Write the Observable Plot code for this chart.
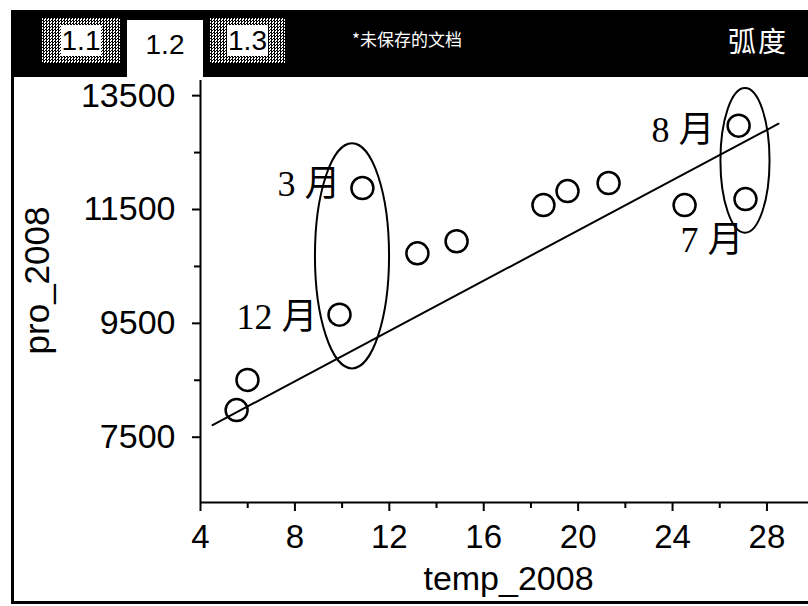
<!DOCTYPE html>
<html><head><meta charset="utf-8">
<script src="https://cdn.jsdelivr.net/npm/d3@7"></script>
<script src="https://cdn.jsdelivr.net/npm/@observablehq/plot@0.6"></script>
<style>
html,body{margin:0;padding:0;background:#fff;}
#page{position:relative;width:808px;height:606px;overflow:hidden;background:#fff;}
#chart{position:absolute;left:0;top:0;}
.hdr{position:absolute;box-sizing:border-box;}
#bar{left:11px;top:10px;width:797px;height:67px;background:#000;}
.tab{font-family:"Liberation Sans",Arial,sans-serif;font-size:28px;color:#000;text-align:center;}
.dither{background-color:#fff;background-image:repeating-conic-gradient(#000 0 25%, transparent 0 50%);background-size:3px 3px;}
.tab span{background:#fff;padding:0 1px;}
#doc{left:352px;top:26px;font-family:"Noto Sans CJK SC",sans-serif;font-size:17px;color:#fff;white-space:nowrap;}
#mode{left:728px;top:20px;font-family:"Noto Sans CJK SC",sans-serif;font-size:28px;color:#fff;white-space:nowrap;letter-spacing:2px;}
#lline{left:11px;top:77px;width:3px;height:527px;background:#000;}
#bline{left:11px;top:601px;width:797px;height:3px;background:#000;}
</style></head>
<body><div id="page">
<div id="chart"></div>
<div class="hdr" id="bar"></div>
<div class="hdr tab dither" style="left:42px;top:18px;width:78px;height:45px;line-height:45px"><span>1.1</span></div>
<div class="hdr tab" style="left:127px;top:20px;width:76px;height:60px;line-height:50px;background:#fff">1.2</div>
<div class="hdr tab dither" style="left:210px;top:18px;width:75px;height:45px;line-height:45px"><span>1.3</span></div>
<div class="hdr" id="doc">*未保存的文档</div>
<div class="hdr" id="mode">弧度</div>
<div class="hdr" id="lline"></div>
<div class="hdr" id="bline"></div>
</div>
<script>
// ---- data ----
const temp = [5.53, 5.99, 9.89, 10.86, 13.19, 14.85, 18.53, 19.55, 21.29, 24.51, 26.80, 27.09];
const pro  = [7977, 8506, 9653, 11877, 10730, 10942, 11577, 11824, 11965, 11577, 12972, 11683];
const monthLabels = ["", "", "12 月", "3 月", "", "", "", "", "", "", "8 月", "7 月"];

const fitTemp = [4.51, 28.49];
const fitPro  = [7712, 13007];

const ringTemp = [10.44, 27.09];
const ringPro  = [10677, 12354];
const ringHalfTemp = [1.57, 1.04];
const ringHalfPro  = [1977, 1271];

const xTicks = [4, 8, 12, 16, 20, 24, 28];
const xMinor = [6, 10, 14, 18, 22, 26];
const yTicks = [7500, 9500, 11500, 13500];
const yMinor = [8500, 10500, 12500];

const points = temp.map((t, i) => ({t, p: pro[i], label: monthLabels[i]}));
const fit = fitTemp.map((t, i) => ({t, p: fitPro[i]}));

const ns = "http://www.w3.org/2000/svg";
function rings(index, scales) {
  const g = document.createElementNS(ns, "g");
  ringTemp.forEach((t, i) => {
    const cx = scales.x(t), cy = scales.y(ringPro[i]);
    const rx = Math.abs(scales.x(t + ringHalfTemp[i]) - cx);
    const ry = Math.abs(scales.y(ringPro[i] + ringHalfPro[i]) - cy);
    const e = document.createElementNS(ns, "ellipse");
    e.setAttribute("cx", cx); e.setAttribute("cy", cy);
    e.setAttribute("rx", rx); e.setAttribute("ry", ry);
    e.setAttribute("fill", "none"); e.setAttribute("stroke", "black");
    e.setAttribute("stroke-width", 2);
    g.appendChild(e);
  });
  return g;
}

const serif = "'Liberation Serif','Noto Sans CJK SC',serif";
function monthText(name, dx, dy) {
  return Plot.text(points.filter(d => d.label === name), {
    x: "t", y: "p", text: "label", textAnchor: "end", dx, dy,
    fontSize: 36, fontFamily: serif, fill: "black"
  });
}

const chart = Plot.plot({
  width: 808, height: 606,
  marginLeft: 200, marginRight: 0, marginTop: 80, marginBottom: 104,
  style: {fontFamily: "'Liberation Sans',Arial,sans-serif", fontSize: "34px", color: "black", background: "transparent", overflow: "visible"},
  x: {domain: [4, 29.76]},
  y: {domain: [6353, 13766]},
  marks: [
    Plot.axisY({ticks: yTicks, tickSize: 8, tickPadding: 17, tickFormat: d => String(d), label: null, fontSize: 34, strokeWidth: 2}),
    Plot.axisY({ticks: yMinor, tickSize: 6, tickFormat: () => "", label: null, strokeWidth: 2}),
    Plot.axisX({ticks: xTicks, tickSize: 9, tickPadding: 13, tickFormat: d => String(d), label: null, fontSize: 33, strokeWidth: 2}),
    Plot.axisX({ticks: xMinor, tickSize: 6, tickFormat: () => "", label: null, strokeWidth: 2}),
    Plot.ruleX([4], {stroke: "black", strokeWidth: 2}),
    Plot.ruleY([6353], {stroke: "black", strokeWidth: 2}),
    Plot.text(["temp_2008"], {frameAnchor: "bottom", textAnchor: "middle", lineAnchor: "middle", dx: 4, dy: 77, fontSize: 34, fill: "black"}),
    Plot.text(["pro_2008"], {frameAnchor: "left", rotate: -90, textAnchor: "middle", lineAnchor: "middle", dx: -163, dy: -11, fontSize: 35, fill: "black"}),
    Plot.line(fit, {x: "t", y: "p", stroke: "black", strokeWidth: 2}),
    rings,
    Plot.dot(points, {x: "t", y: "p", r: 11, stroke: "black", strokeWidth: 2.5, fill: "none"}),
    monthText("3 月", -22, -4),
    monthText("12 月", -22, 3),
    monthText("8 月", -24, 5),
    monthText("7 月", -2, 41)
  ]
});
document.getElementById("chart").appendChild(chart);
</script>
</body></html>
